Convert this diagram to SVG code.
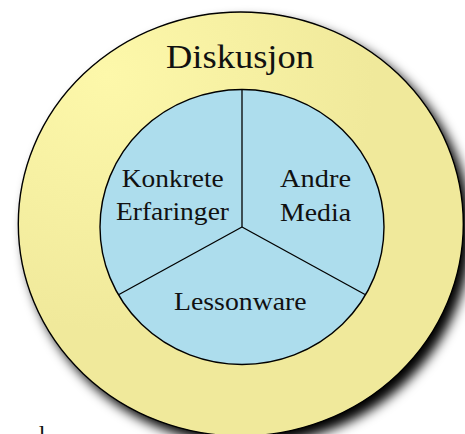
<svg xmlns="http://www.w3.org/2000/svg" width="465" height="434" viewBox="0 0 465 434">
  <style>
    .label { font-family: "Liberation Serif", "Times New Roman", serif; fill: #111; text-anchor: middle; }
    .inner { font-size: 25px; }
    .outline { stroke: #000; stroke-width: 1.4; }
    .spoke { stroke: #000; stroke-width: 1.3; fill: none; }
  </style>
  <defs>
    <radialGradient id="outerFill" cx="0.2" cy="0.15" r="0.6">
      <stop offset="0" stop-color="#fdf8aa"/>
      <stop offset="1" stop-color="#f0e99b"/>
    </radialGradient>
    <filter id="dropShadow" x="-20%" y="-20%" width="140%" height="140%">
      <feGaussianBlur in="SourceAlpha" stdDeviation="6"/>
      <feOffset dx="7" dy="8"/>
      <feMerge>
        <feMergeNode/>
        <feMergeNode in="SourceGraphic"/>
      </feMerge>
    </filter>
  </defs>

  <!-- outer ring: discussion -->
  <g id="diskusjon">
    <ellipse cx="240.8" cy="224" rx="222.5" ry="212" fill="url(#outerFill)" class="outline" filter="url(#dropShadow)"/>
    <text class="label" x="240" y="68" font-size="33" textLength="148" lengthAdjust="spacingAndGlyphs">Diskusjon</text>
  </g>

  <!-- inner disc -->
  <g id="kjerne">
    <ellipse cx="242" cy="227" rx="142" ry="137.5" fill="#addded" class="outline"/>
  </g>

  <!-- dividing spokes between the three sectors -->
  <g id="connectors">
    <line class="spoke" x1="242" y1="89.5" x2="242" y2="227"/>
    <line class="spoke" x1="242" y1="227" x2="119" y2="294.5"/>
    <line class="spoke" x1="242" y1="227" x2="365" y2="294.5"/>
  </g>

  <g id="konkrete-erfaringer">
    <text class="label inner" x="172.8" y="186.7" textLength="102" lengthAdjust="spacingAndGlyphs">Konkrete</text>
    <text class="label inner" x="172.5" y="220" textLength="113" lengthAdjust="spacingAndGlyphs">Erfaringer</text>
  </g>

  <g id="andre-media">
    <text class="label inner" x="315.5" y="186.7" textLength="71" lengthAdjust="spacingAndGlyphs">Andre</text>
    <text class="label inner" x="315.5" y="220.5" textLength="71" lengthAdjust="spacingAndGlyphs">Media</text>
  </g>

  <g id="lessonware">
    <text class="label inner" x="240.3" y="310" textLength="132.5" lengthAdjust="spacingAndGlyphs">Lessonware</text>
  </g>

  <!-- top of a following line of body text, cut by the page edge -->
  <text class="label" x="42" y="442" font-size="24">l</text>
</svg>
